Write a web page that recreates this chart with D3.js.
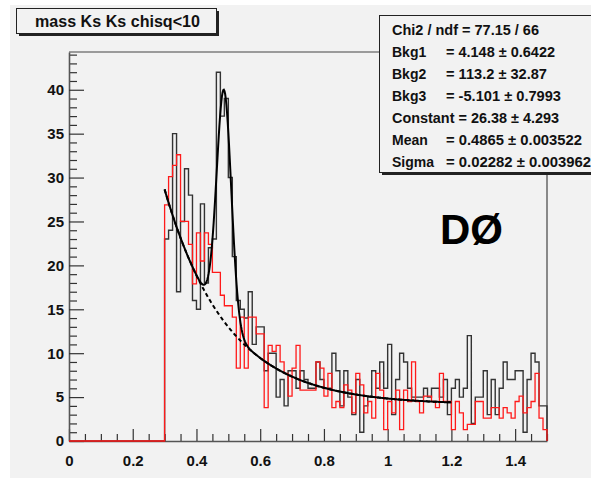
<!DOCTYPE html>
<html>
<head>
<meta charset="utf-8">
<script src="https://cdn.jsdelivr.net/npm/d3@7"></script>
<style>
  body { margin: 0; background: #fff; }
  text { font-family: "Liberation Sans", Arial, sans-serif; font-weight: bold; }
</style>
</head>
<body>
<div id="chart"></div>
<script>
// histogram contents, 96 bins of 0.0125 from 0.3 to 1.5
var blackCounts = [
  23, 24, 35, 17, 25, 31, 28, 16, 15, 27, 18, 22, 23, 42, 37, 39,
  30, 21, 16, 15, 14, 17, 11, 13, 13, 8, 10, 10, 5, 7, 4, 8,
  8, 6, 8, 7, 6, 6, 9, 7, 6, 6, 10, 8, 4, 8, 5, 3,
  7, 1, 4, 5, 8, 6, 9, 6, 11, 3, 7, 10, 9, 6, 5, 5,
  5, 6, 5, 6, 6, 5, 7, 3, 6, 7, 5, 6, 12, 2, 5, 5,
  8, 3, 7, 3, 6, 9, 7, 7, 8, 8, 1, 7, 10, 9, 4, 4
];
var redCounts = [
  26.9, 30.1, 31.4, 32.6, 25.0, 25.0, 22.4, 17.9, 23.7, 20.5, 23.7, 22.4, 19.2, 19.2, 16.6, 15.4,
  15.4, 14.1, 8.3, 14.1, 8.3, 14.1, 14.1, 12.2, 12.2, 3.8, 10.9, 10.2, 10.9, 9.0, 7.7, 5.1,
  8.3, 10.9, 5.8, 5.8, 5.8, 5.8, 9.0, 8.3, 5.1, 7.7, 3.8, 4.5, 3.8, 6.4, 5.8, 3.2,
  7.7, 6.4, 3.2, 4.5, 2.6, 7.7, 5.8, 1.3, 4.5, 3.2, 5.8, 1.3, 5.8, 4.5, 9.0, 4.5,
  3.2, 5.1, 5.1, 4.5, 3.8, 7.7, 4.5, 4.5, 1.3, 4.5, 3.2, 1.3, 1.9, 1.9, 4.5, 4.5,
  2.6, 2.6, 3.8, 3.8, 2.6, 3.8, 3.2, 2.6, 4.5, 5.1, 3.2, 3.8, 4.5, 7.7, 2.6, 1.3
];
var binLow = 0.3, binWidth = 0.0125;

// fit parameters from the stats box: bkg1 + bkg2*exp(bkg3*x) + gaus
var fitParams = [4.148, 113.2, -5.101, 26.38, 0.4865, 0.02282];
var fitRange = [0.3, 1.2];

var statNames = ["Bkg1", "Bkg2", "Bkg3", "Constant", "Mean", "Sigma"];
var statValues = ["= 4.148 \u00b1 0.6422", "= 113.2 \u00b1 32.87", "= -5.101 \u00b1 0.7993",
  "= 26.38 \u00b1 4.293", "= 0.4865 \u00b1 0.003522", "= 0.02282 \u00b1 0.003962"];
var chiLine = "Chi2 / ndf = 77.15 / 66";

var xMajor = [0, 0.2, 0.4, 0.6, 0.8, 1, 1.2, 1.4];
var xLabels = ["0", "0.2", "0.4", "0.6", "0.8", "1", "1.2", "1.4"];
var yMajor = [0, 5, 10, 15, 20, 25, 30, 35, 40];
var yLabels = ["0", "5", "10", "15", "20", "25", "30", "35", "40"];

var width = 591, height = 485,
  frame = {left: 69, right: 547, top: 52, bottom: 441};

var svg = d3.select("#chart").append("svg")
  .attr("width", width).attr("height", height);

// pad
svg.append("rect").attr("x", 10).attr("y", 5).attr("width", width - 10).attr("height", 473)
  .attr("fill", "#f2f2f2");

var x = d3.scaleLinear().domain([0, 1.5]).range([frame.left, frame.right]),
  y = d3.scaleLinear().domain([0, 44.3]).range([frame.bottom, frame.top]);

// frame top and right
svg.append("path")
  .attr("d", "M" + frame.left + "," + frame.top + "H" + frame.right + "V" + frame.bottom)
  .attr("fill", "none").attr("stroke", "#444").attr("stroke-width", 1.2);

// axes
var xMinor = d3.range(0, 1.5001, 0.05).filter(function (v) { return Math.abs(v / 0.2 - Math.round(v / 0.2)) > 1e-6; });
svg.append("g").attr("transform", "translate(0," + frame.bottom + ")")
  .call(d3.axisBottom(x).tickValues(xMinor).tickSize(-7).tickSizeOuter(0).tickFormat(""))
  .call(function (g) { g.select(".domain").remove(); });
svg.append("g").attr("class", "xaxis").attr("transform", "translate(0," + frame.bottom + ")")
  .call(d3.axisBottom(x).tickValues(xMajor).tickSize(-12).tickSizeOuter(0).tickPadding(14)
    .tickFormat(function (d, i) { return xLabels[i]; }));

var yMinor = d3.range(0, 45, 1).filter(function (v) { return v % 5 !== 0; });
svg.append("g").attr("transform", "translate(" + frame.left + ",0)")
  .call(d3.axisLeft(y).tickValues(yMinor).tickSize(-8).tickSizeOuter(0).tickFormat(""))
  .call(function (g) { g.select(".domain").remove(); });
svg.append("g").attr("class", "yaxis").attr("transform", "translate(" + frame.left + ",0)")
  .call(d3.axisLeft(y).tickValues(yMajor).tickSize(-15).tickSizeOuter(0).tickPadding(5)
    .tickFormat(function (d, i) { return yLabels[i]; }));

svg.selectAll(".tick line").attr("stroke", "#333").attr("stroke-width", 1.2);
svg.selectAll(".domain").attr("stroke", "#555").attr("stroke-width", 1.6);
svg.selectAll(".xaxis text, .yaxis text").attr("font-size", "15px").attr("fill", "#111")
  .attr("font-family", "Liberation Sans, Arial, sans-serif").attr("font-weight", "bold");

// histograms
function histPoints(vals) {
  var pts = [[0, 0], [binLow, 0]];
  vals.forEach(function (v, i) {
    pts.push([binLow + i * binWidth, v]);
    pts.push([binLow + (i + 1) * binWidth, v]);
  });
  pts.push([binLow + vals.length * binWidth, 0]);
  return pts;
}
var line = d3.line().x(function (d) { return x(d[0]); }).y(function (d) { return y(d[1]); });

svg.append("path").attr("d", line(histPoints(blackCounts)))
  .attr("fill", "none").attr("stroke", "#333").attr("stroke-width", 1.4);
svg.append("path").attr("d", line(histPoints(redCounts)))
  .attr("fill", "none").attr("stroke", "#ff1a1a").attr("stroke-width", 1.3);

// fit curves
function bkg(v) { return fitParams[0] + fitParams[1] * Math.exp(fitParams[2] * v); }
function total(v) {
  var z = (v - fitParams[4]) / fitParams[5];
  return bkg(v) + fitParams[3] * Math.exp(-0.5 * z * z);
}
var xs = d3.range(fitRange[0], fitRange[1] + 1e-9, 0.002);
svg.append("path").attr("d", line(xs.map(function (v) { return [v, bkg(v)]; })))
  .attr("fill", "none").attr("stroke", "#000").attr("stroke-width", 2).attr("stroke-dasharray", "4,3");
svg.append("path").attr("d", line(xs.map(function (v) { return [v, total(v)]; })))
  .attr("fill", "none").attr("stroke", "#000").attr("stroke-width", 2);

// title box
svg.append("rect").attr("x", 19).attr("y", 11).attr("width", 200).attr("height", 25).attr("fill", "#222");
svg.append("rect").attr("x", 16.5).attr("y", 8.5).attr("width", 200).attr("height", 25)
  .attr("fill", "#f2f2f2").attr("stroke", "#222").attr("stroke-width", 1);
svg.append("text").attr("x", 35).attr("y", 27)
  .attr("font-size", "16.5px").attr("fill", "#111")
  .attr("textLength", 165).attr("lengthAdjust", "spacingAndGlyphs")
  .text("mass Ks Ks chisq<10");

// stats box
svg.append("rect").attr("x", 382).attr("y", 18).attr("width", 220).attr("height", 157).attr("fill", "#222");
svg.append("rect").attr("x", 379.5).attr("y", 15.5).attr("width", 220).attr("height", 157)
  .attr("fill", "#f2f2f2").attr("stroke", "#222").attr("stroke-width", 1);
var valueWidths = [109, 101, 115, 167, 136, 145];
var stats = svg.append("g").attr("font-size", "14px").attr("fill", "#111");
stats.append("text").attr("x", 392).attr("y", 35)
  .attr("textLength", 147).attr("lengthAdjust", "spacingAndGlyphs").text(chiLine);
statNames.forEach(function (n, i) {
  var by = 57 + i * 22;
  if (n === "Constant") {
    // long name runs straight into its value, as in the box
    stats.append("text").attr("x", 392).attr("y", by)
      .attr("textLength", valueWidths[i]).attr("lengthAdjust", "spacingAndGlyphs")
      .text(n + " " + statValues[i]);
    return;
  }
  stats.append("text").attr("x", 392).attr("y", by).text(n);
  stats.append("text").attr("x", 446).attr("y", by)
    .attr("textLength", valueWidths[i]).attr("lengthAdjust", "spacingAndGlyphs").text(statValues[i]);
});

// experiment label
svg.append("text").attr("x", 440).attr("y", 244).attr("font-size", "42px").attr("fill", "#000")
  .text("D\u00d8");
</script>
</body>
</html>
